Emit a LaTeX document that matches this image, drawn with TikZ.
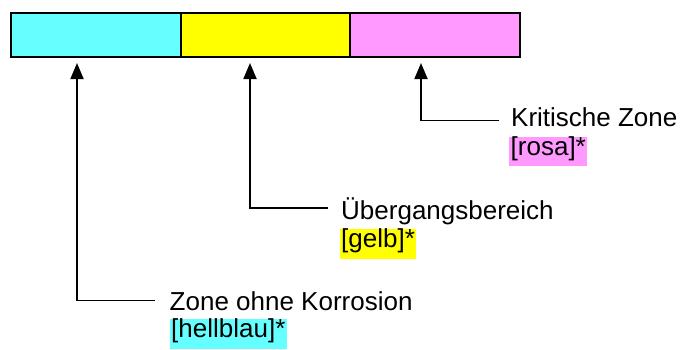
\documentclass[tikz,border=0pt]{standalone}
\usepackage{fontspec}
\setmainfont{Liberation Sans}
\usetikzlibrary{arrows.meta}
\definecolor{hellblau}{HTML}{66FFFF}
\definecolor{gelb}{HTML}{FFFF00}
\definecolor{rosa}{HTML}{FF99FF}
\begin{document}
\begin{tikzpicture}[x=1pt,y=-1pt,
    zone/.style={draw=black, line width=2pt, minimum width=169.7pt, minimum height=44pt, inner sep=0pt, anchor=north west},
    titel/.style={anchor=base west, inner sep=0pt, font=\fontsize{26}{31}\selectfont},
    farbe/.style={anchor=base west, inner xsep=1.5pt, inner ysep=0pt, text height=18.5pt, text depth=11pt, font=\fontsize{26}{31}\selectfont},
    zeiger/.style={line width=1.8pt, -{Triangle[width=13pt,length=16pt]}}]
                \useasboundingbox (0,0) rectangle (685,349);

                \node[zone, fill=hellblau] (1) at (10,12) {};
                \node[zone, fill=gelb] (2) at (179.7,12) {};
                \node[zone, fill=rosa] (3) at (349.4,12) {};

                \node[titel] (4) at (511,126.5) {Kritische Zone};
                \node[farbe, fill=rosa] (5) at (509,155) {[rosa]*};
                \node[titel] (6) at (341,219) {Übergangsbereich};
                \node[farbe, fill=gelb] (7) at (339.5,247.5) {[gelb]*};
                \node[titel] (8) at (169.5,310) {Zone ohne Korrosion};
                \node[farbe, fill=hellblau] (9) at (169.5,337.5) {[hellblau]*};

                \coordinate (a3) at (499,120.5);
                \coordinate (s3) at (421,63);
                \coordinate (a2) at (328,208);
                \coordinate (s2) at (250,63);
                \coordinate (a1) at (155,300.5);
                \coordinate (s1) at (77,63);

                \draw[zeiger] (a3) -| (s3);
                \draw[zeiger] (a2) -| (s2);
                \draw[zeiger] (a1) -| (s1);
\end{tikzpicture}
\end{document}
